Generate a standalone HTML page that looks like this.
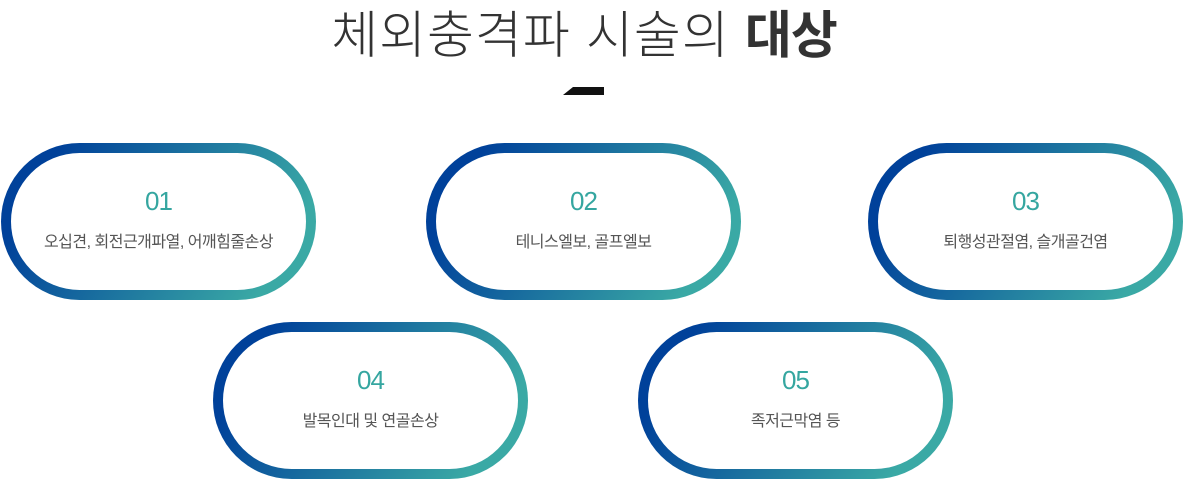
<!DOCTYPE html>
<html><head><meta charset="utf-8"><style>
body{margin:0;width:1184px;height:481px;background:#fff;position:relative;overflow:hidden;font-family:"Liberation Sans","Noto Sans CJK KR",sans-serif}
.t{position:absolute;left:-8px;width:1184px;top:-6px;text-align:center;font-size:51px;color:#333;font-weight:300;letter-spacing:1px}
.t b{font-weight:700;letter-spacing:-1px}
.bar{position:absolute;left:563px;top:87px;width:41px;height:8px;background:#111;clip-path:polygon(10px 0,100% 0,100% 100%,0 100%)}
.p{position:absolute;width:315px;height:157px;box-sizing:border-box;border:10px solid transparent;border-radius:80px;
background:linear-gradient(#fff,#fff) padding-box,linear-gradient(120deg,#00419a 15%,#3aa9a5 85%) border-box;text-align:center}
.n{margin-top:33px;font-size:26px;color:#35a6a0;letter-spacing:-1px;line-height:30px}
.l{margin-top:12px;font-size:16px;color:#555;letter-spacing:-0.5px}
</style></head><body>
<div class="t">체외충격파 시술의 <b>대상</b></div>
<div class="bar"></div>
<div class="p" style="left:1px;top:143px"><div class="n">01</div><div class="l">오십견, 회전근개파열, 어깨힘줄손상</div></div>
<div class="p" style="left:426px;top:143px"><div class="n">02</div><div class="l">테니스엘보, 골프엘보</div></div>
<div class="p" style="left:868px;top:143px"><div class="n">03</div><div class="l">퇴행성관절염, 슬개골건염</div></div>
<div class="p" style="left:213px;top:322px"><div class="n">04</div><div class="l">발목인대 및 연골손상</div></div>
<div class="p" style="left:638px;top:322px"><div class="n">05</div><div class="l">족저근막염 등</div></div>
</body></html>
